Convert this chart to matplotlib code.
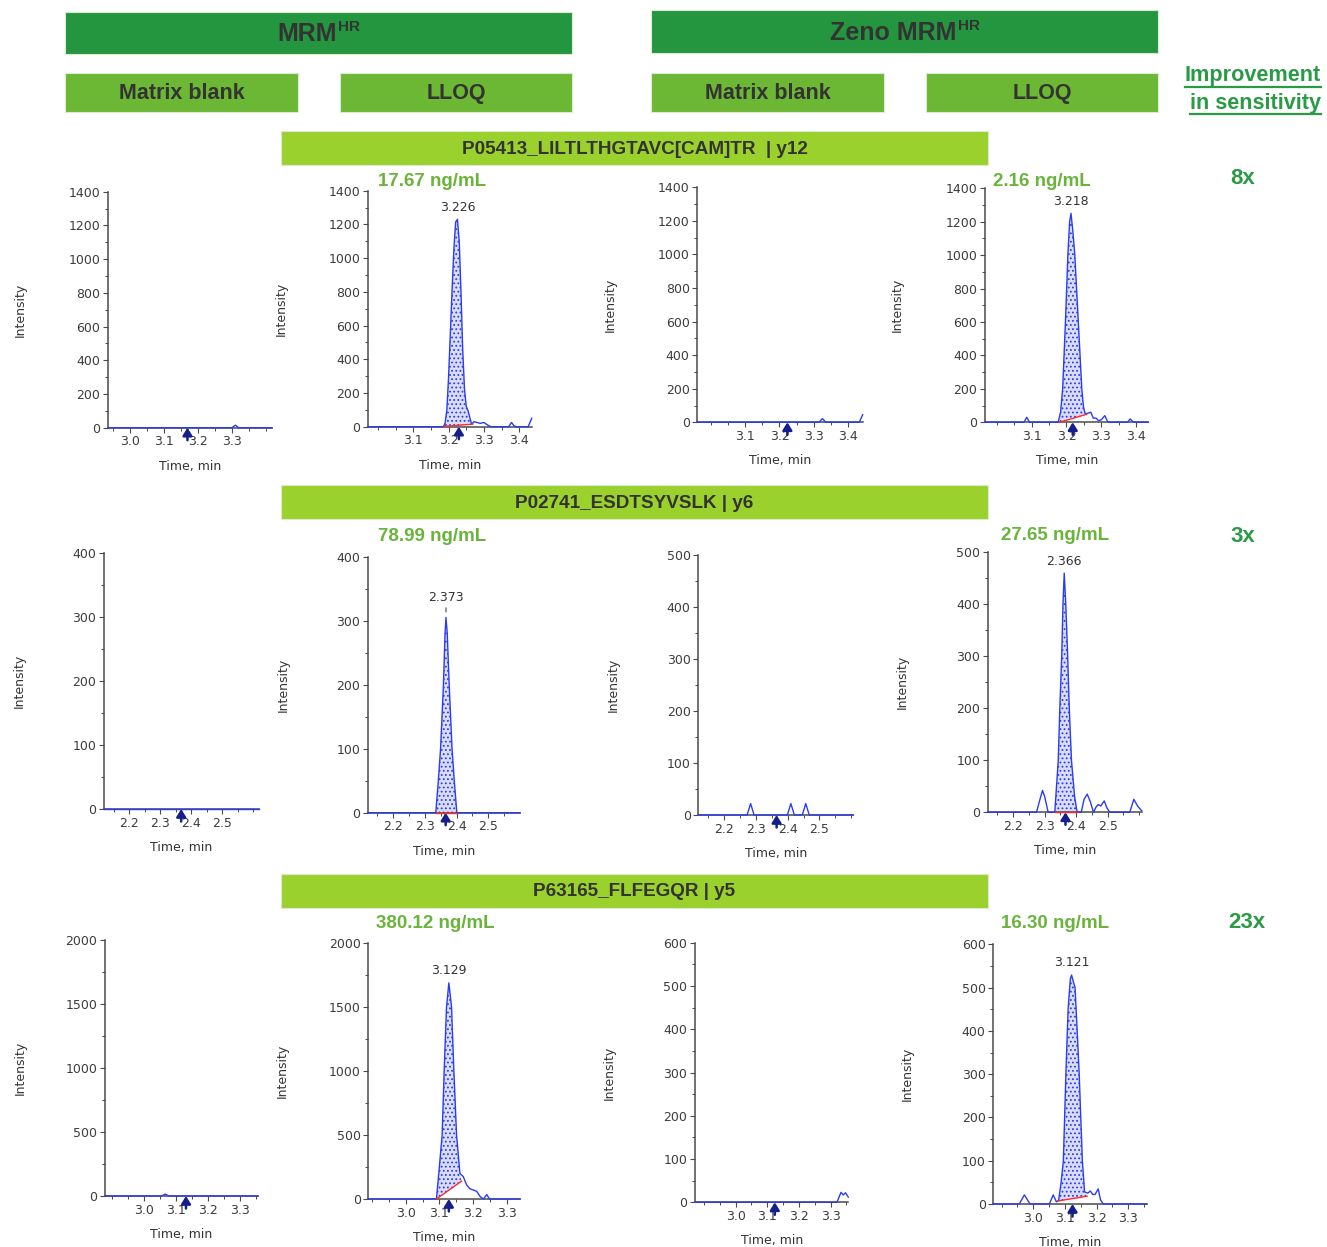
import numpy as np
import matplotlib
matplotlib.use("Agg")
import matplotlib.pyplot as plt
from matplotlib import rcParams, font_manager
from matplotlib.patches import Rectangle
from matplotlib.lines import Line2D
from matplotlib.ticker import MultipleLocator

W, H = 1327, 1247
names = {f.name for f in font_manager.fontManager.ttflist}
if "Liberation Sans Narrow" in names:
    narrow, nk = ["Liberation Sans Narrow", "DejaVu Sans"], 1.0
else:
    narrow, nk = ["Liberation Sans", "DejaVu Sans"], 0.82

rcParams["font.family"] = ["DejaVu Sans"]
rcParams["hatch.linewidth"] = 0.8

# ---------------- data ----------------
headers = ["MRM", "Zeno MRM"]
columns = ["Matrix blank", "LLOQ", "Matrix blank", "LLOQ"]
peptides = ["P05413_LILTLTHGTAVC[CAM]TR  | y12", "P02741_ESDTSYVSLK | y6", "P63165_FLFEGQR | y5"]
improvement = ["8x", "3x", "23x"]
concentrations = [["17.67 ng/mL", "2.16 ng/mL"],
                  ["78.99 ng/mL", "27.65 ng/mL"],
                  ["380.12 ng/mL", "16.30 ng/mL"]]
rt_labels = [["", "3.226", "", "3.218"],
             ["", "2.373", "", "2.366"],
             ["", "3.129", "", "3.121"]]
expected_rt = [[3.169, 3.229, 3.223, 3.218],
               [2.368, 2.366, 2.365, 2.366],
               [3.131, 3.128, 3.124, 3.124]]
# integration baseline (start time, start int, end time, end int)
baselines = [[None, (3.188, 2, 3.268, 15), None, (3.180, 0, 3.258, 48)],
             [None, (2.335, 0, 2.401, 0), None, (2.332, 0, 2.403, 0)],
             [None, (3.091, 0, 3.166, 140), None, (3.078, 7, 3.170, 18)]]

# row 1 : P05413
r1_mrm_blank_t = [2.935, 3.300, 3.310, 3.320, 3.418]
r1_mrm_blank_i = [0, 0, 15, 0, 0]
r1_mrm_lloq_t = [2.972, 3.185, 3.190, 3.195, 3.200, 3.205, 3.210, 3.215, 3.220, 3.225,
                 3.230, 3.235, 3.240, 3.245, 3.250, 3.255, 3.260, 3.265, 3.272, 3.280,
                 3.290, 3.300, 3.310, 3.320, 3.370, 3.378, 3.385, 3.392, 3.425, 3.435]
r1_mrm_lloq_i = [0, 0, 20, 100, 300, 560, 820, 1060, 1215, 1230,
                 1100, 800, 450, 220, 120, 95, 55, 15, 30, 25,
                 20, 25, 10, 0, 0, 25, 5, 0, 0, 50]
r1_zeno_blank_t = [2.961, 3.315, 3.325, 3.335, 3.432, 3.442]
r1_zeno_blank_i = [0, 0, 22, 0, 0, 45]
r1_zeno_lloq_t = [2.966, 3.078, 3.086, 3.094, 3.176, 3.183, 3.189, 3.197, 3.204, 3.209,
                  3.213, 3.218, 3.224, 3.229, 3.234, 3.239, 3.244, 3.249, 3.254, 3.262,
                  3.270, 3.277, 3.285, 3.292, 3.300, 3.310, 3.318, 3.325, 3.375, 3.383,
                  3.390, 3.396, 3.435]
r1_zeno_lloq_i = [0, 0, 30, 0, 0, 60, 200, 600, 1000, 1200,
                  1250, 1150, 1000, 800, 600, 400, 200, 90, 50, 55,
                  60, 25, 25, 10, 15, 40, 5, 0, 0, 20,
                  5, 0, 0]

# row 2 : P02741
r2_mrm_blank_t = [2.119, 2.619]
r2_mrm_blank_i = [0, 0]
r2_mrm_lloq_t = [2.1216, 2.335, 2.343, 2.350, 2.359, 2.364, 2.367, 2.371, 2.377, 2.386, 2.393, 2.401, 2.599]
r2_mrm_lloq_i = [0, 0, 50, 100, 200, 280, 305, 280, 200, 100, 50, 0, 0]
r2_zeno_blank_t = [2.118, 2.272, 2.283, 2.294, 2.399, 2.410, 2.421, 2.446, 2.457, 2.468, 2.607]
r2_zeno_blank_i = [0, 0, 22, 0, 0, 22, 0, 0, 22, 0, 0]
r2_zeno_lloq_t = [2.119, 2.274, 2.285, 2.293, 2.300, 2.311, 2.332, 2.343, 2.348, 2.354,
                  2.358, 2.362, 2.367, 2.373, 2.378, 2.385, 2.395, 2.403, 2.416, 2.425,
                  2.435, 2.445, 2.455, 2.463, 2.470, 2.478, 2.489, 2.498, 2.507, 2.570,
                  2.583, 2.595, 2.608]
r2_zeno_lloq_i = [0, 0, 25, 42, 30, 0, 0, 100, 200, 300,
                  400, 460, 400, 300, 200, 100, 30, 0, 0, 25,
                  35, 20, 0, 10, 15, 12, 22, 8, 0, 0,
                  25, 12, 3]

# row 3 : P63165
r3_mrm_blank_t = [2.878, 3.055, 3.066, 3.077, 3.356]
r3_mrm_blank_i = [0, 0, 15, 0, 0]
r3_mrm_lloq_t = [2.888, 3.091, 3.098, 3.108, 3.114, 3.121, 3.128, 3.132, 3.136, 3.143, 3.151,
                 3.161, 3.171, 3.181, 3.191, 3.201, 3.211, 3.221, 3.231, 3.241, 3.249, 3.340]
r3_mrm_lloq_i = [0, 0, 200, 500, 1000, 1500, 1690, 1600, 1500, 1000, 500,
                 200, 175, 110, 80, 70, 60, 20, 0, 35, 0, 0]
r3_zeno_blank_t = [2.872, 3.320, 3.333, 3.340, 3.347, 3.356]
r3_zeno_blank_i = [0, 0, 23, 17, 22, 12]
r3_zeno_lloq_t = [2.874, 2.956, 2.972, 2.990, 3.051, 3.063, 3.073, 3.080, 3.088, 3.095,
                  3.103, 3.110, 3.117, 3.121, 3.126, 3.132, 3.140, 3.145, 3.155, 3.162,
                  3.172, 3.180, 3.188, 3.195, 3.205, 3.212, 3.221, 3.358]
r3_zeno_lloq_i = [0, 0, 21, 0, 0, 21, 5, 8, 50, 100,
                  300, 450, 520, 529, 515, 500, 380, 300, 100, 28,
                  25, 30, 22, 22, 35, 10, 0, 0]

traces = [[(r1_mrm_blank_t, r1_mrm_blank_i), (r1_mrm_lloq_t, r1_mrm_lloq_i),
           (r1_zeno_blank_t, r1_zeno_blank_i), (r1_zeno_lloq_t, r1_zeno_lloq_i)],
          [(r2_mrm_blank_t, r2_mrm_blank_i), (r2_mrm_lloq_t, r2_mrm_lloq_i),
           (r2_zeno_blank_t, r2_zeno_blank_i), (r2_zeno_lloq_t, r2_zeno_lloq_i)],
          [(r3_mrm_blank_t, r3_mrm_blank_i), (r3_mrm_lloq_t, r3_mrm_lloq_i),
           (r3_zeno_blank_t, r3_zeno_blank_i), (r3_zeno_lloq_t, r3_zeno_lloq_i)]]

# ---------------- layout (pixels) ----------------
boxes = [[(108, 191.7, 272, 427.7), (368, 190.7, 531.7, 426.7), (697.3, 187.3, 862.7, 422.3), (985, 188.3, 1148.3, 422.3)],
         [(104, 553, 259, 809), (367.7, 556.7, 520, 812.7), (698.3, 555, 853.3, 815), (987.7, 552.3, 1141.7, 812.3)],
         [(105, 940, 258, 1196), (368.3, 943.3, 520, 1199), (695, 942.7, 848.3, 1202.3), (993.3, 944.3, 1146.7, 1204)]]
xlims = [[(2.935, 3.418), (2.972, 3.435), (2.961, 3.442), (2.966, 3.435)],
         [(2.119, 2.619), (2.1216, 2.599), (2.118, 2.607), (2.119, 2.608)],
         [(2.878, 3.356), (2.888, 3.340), (2.872, 3.356), (2.874, 3.358)]]
xticks = [[[3.0, 3.1, 3.2, 3.3], [3.1, 3.2, 3.3, 3.4], [3.1, 3.2, 3.3, 3.4], [3.1, 3.2, 3.3, 3.4]],
          [[2.2, 2.3, 2.4, 2.5]] * 4,
          [[3.0, 3.1, 3.2, 3.3]] * 4]
ymax = [[1400, 1400, 1400, 1400], [400, 400, 500, 500], [2000, 2000, 600, 600]]
ystep = [[200, 200, 200, 200], [100, 100, 100, 100], [500, 500, 100, 100]]
ylab_x = [[27, 288, 617, 904], [26, 290, 620, 909], [27, 289, 616, 914]]
conc_pos = [[(431.7, 181.7), (1041.7, 181)], [(431.7, 536.7), (1055, 536)], [(435, 923.3), (1055, 923.3)]]
impr_pos = [(1243, 179), (1243, 536), (1247, 923)]

dark_green = "#24963f"
mid_green = "#6cb733"
light_green = "#9bd12c"
conc_green = "#6ab43c"
impr_green = "#2a9a46"
txt_dark = "#333333"
trace_c = "#2b3cf0"
navy = "#141e8c"


def fx(x):
    return x / W


def fy(y):
    return 1 - y / H


fig = plt.figure(figsize=(W / 100, H / 100), dpi=100)


def add_box(x0, y0, x1, y1, color):
    fig.add_artist(Rectangle((fx(x0), fy(y1)), (x1 - x0) / W, (y1 - y0) / H,
                             transform=fig.transFigure, facecolor=color,
                             edgecolor="#d9eccf", lw=0.8, zorder=0))


# header boxes
top_boxes = [(65, 12, 572, 54), (651, 10, 1158, 53)]
col_boxes = [(65, 73, 298, 112), (340, 73, 572, 112), (651, 73, 884, 112), (926, 73, 1158, 112)]
pep_boxes = [(281, 131, 988, 165), (281, 485, 988, 519), (281, 874, 988, 908)]

main_txt = []
for b, h in zip(top_boxes, headers):
    add_box(*b, dark_green)
    t1 = fig.text(0, 0, h, family=narrow, weight="bold", size=20.5 if nk == 1 else 18,
                  color=txt_dark, va="center", ha="left")
    t2 = fig.text(0, 0, "HR", family=narrow, weight="bold", size=12.5 if nk == 1 else 11,
                  color=txt_dark, va="top", ha="left")
    main_txt.append((b, t1, t2))
for b, c in zip(col_boxes, columns):
    add_box(*b, mid_green)
    fig.text(fx((b[0] + b[2]) / 2), fy((b[1] + b[3]) / 2 + 1), c, family=narrow, weight="bold",
             size=18.5 if nk == 1 else 15.5, color=txt_dark, ha="center", va="center")
for b, p in zip(pep_boxes, peptides):
    add_box(*b, light_green)
    fig.text(fx((b[0] + b[2]) / 2), fy((b[1] + b[3]) / 2 + 1), p, family=narrow, weight="bold",
             size=16 if nk == 1 else 13.6, color=txt_dark, ha="center", va="center")

imp1 = fig.text(fx(1253), fy(76), "Improvement", family=narrow, weight="bold",
                size=18.5 if nk == 1 else 15.6, color=impr_green, ha="center", va="center")
imp2 = fig.text(fx(1255), fy(103), "in sensitivity", family=narrow, weight="bold",
                size=18.5 if nk == 1 else 15.6, color=impr_green, ha="center", va="center")

for (x, y), s in zip(impr_pos, improvement):
    fig.text(fx(x), fy(y), s, family=["Liberation Sans", "DejaVu Sans"], weight="bold",
             size=16, color=impr_green, ha="center", va="center")

for r in range(3):
    for k in range(2):
        x, y = conc_pos[r][k]
        fig.text(fx(x), fy(y), concentrations[r][k], family=["Liberation Sans", "DejaVu Sans"],
                 weight="bold", size=13.5, color=conc_green, ha="center", va="center")

# chromatogram panels
for r in range(3):
    for c in range(4):
        x0, y0, x1, y1 = boxes[r][c]
        ax = fig.add_axes([fx(x0), fy(y1), (x1 - x0) / W, (y1 - y0) / H])
        t = np.array(traces[r][c][0])
        inten = np.array(traces[r][c][1])
        ax.set_xlim(*xlims[r][c])
        ax.set_ylim(0, ymax[r][c])
        ax.set_xticks(xticks[r][c])
        ax.set_xticklabels(["%.1f" % v for v in xticks[r][c]])
        ax.xaxis.set_minor_locator(MultipleLocator(0.05))
        ax.yaxis.set_major_locator(MultipleLocator(ystep[r][c]))
        ax.yaxis.set_minor_locator(MultipleLocator(ystep[r][c] / 2))
        for s in ("top", "right"):
            ax.spines[s].set_visible(False)
        for s in ("left", "bottom"):
            ax.spines[s].set_color("#4a4a4a")
            ax.spines[s].set_linewidth(1.1)
        ax.tick_params(which="major", length=3.5, width=0.8, color="#4a4a4a",
                       labelsize=9, labelcolor="#3c3c3c", pad=2)
        ax.tick_params(which="minor", length=2, width=0.7, color="#4a4a4a")
        ax.patch.set_alpha(0)

        bl = baselines[r][c]
        if bl is not None:
            ts, ys, te, ye = bl
            m = (t > ts) & (t < te)
            px = np.r_[ts, t[m], te]
            py = np.r_[ys, inten[m], ye]
            ax.fill(px, py, facecolor="#d9ddfb", edgecolor=trace_c, hatch="....",
                    lw=0, zorder=2)
            ax.plot([ts, te], [ys, ye], color="#ff2a2a", lw=1.0, zorder=4, clip_on=False)

        ax.plot(t, inten, color=trace_c, lw=1.0, zorder=3, clip_on=False)

        if rt_labels[r][c]:
            j = int(np.argmax(inten))
            if r == 1 and c == 1:
                ax.annotate(rt_labels[r][c], xy=(t[j], inten[j]), xytext=(0, 10),
                            textcoords="offset points", ha="center", va="bottom",
                            fontsize=9, color=txt_dark,
                            arrowprops=dict(arrowstyle="-", ls="--", lw=0.8, color="#444444",
                                            shrinkA=1, shrinkB=3))
            else:
                ax.annotate(rt_labels[r][c], xy=(t[j], inten[j]), xytext=(0, 4),
                            textcoords="offset points", ha="center", va="bottom",
                            fontsize=9, color=txt_dark)

        ax.annotate("", xy=(expected_rt[r][c], 0), xycoords=("data", "axes fraction"),
                    xytext=(0, -9), textcoords="offset points", annotation_clip=False,
                    arrowprops=dict(arrowstyle="-|>,head_length=0.45,head_width=0.28",
                                    color=navy, lw=1.8, shrinkA=0, shrinkB=0))

        ax.set_ylabel("Intensity", fontsize=9, color=txt_dark)
        ax.yaxis.set_label_coords((ylab_x[r][c] - x0) / (x1 - x0), 0.5)
        ax.set_xlabel("Time, min", fontsize=9, color=txt_dark)
        ax.xaxis.set_label_coords(0.5, -32 / (y1 - y0))

# superscripts and underlines need text extents
fig.canvas.draw()
rend = fig.canvas.get_renderer()
for b, t1, t2 in main_txt:
    w1 = t1.get_window_extent(rend).width
    w2 = t2.get_window_extent(rend).width
    cx = (b[0] + b[2]) / 2
    cy = (b[1] + b[3]) / 2
    left = cx - (w1 + w2) / 2
    t1.set_position((fx(left), fy(cy + 1)))
    t2.set_position((fx(left + w1 + 1), fy(cy - 13)))

for tt, uy in ((imp1, 87), (imp2, 114)):
    bb = tt.get_window_extent(rend)
    fig.add_artist(Line2D([bb.x0 / W, bb.x1 / W], [fy(uy), fy(uy)], transform=fig.transFigure,
                          color=impr_green, lw=1.6))

fig.savefig("out.png", dpi=100)
